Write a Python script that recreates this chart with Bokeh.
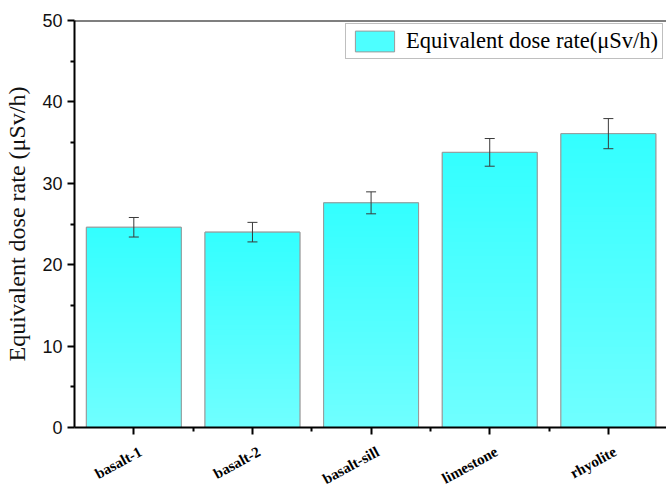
import numpy as np
from bokeh.plotting import figure
from bokeh.layouts import column
from bokeh.models import (FixedTicker, Range1d, Span, Whisker, TeeHead,
                          ColumnDataSource, Legend, LegendItem)
from bokeh.embed import file_html
from bokeh.resources import INLINE

# rock samples and their equivalent dose rates (µSv/h) with error
categories = ["basalt-1", "basalt-2", "basalt-sill", "limestone", "rhyolite"]
dose_rate = [24.6, 24.0, 27.6, 33.8, 36.1]
dose_err = [1.2, 1.2, 1.35, 1.7, 1.85]
y_ticks = [0, 10, 20, 30, 40, 50]

xs = list(range(1, len(categories) + 1))
bar_w = 0.8

p = figure(width=666, height=440, output_backend="svg", toolbar_location=None,
           x_range=Range1d(0.5, 5.49), y_range=Range1d(0, 50),
           min_border_left=74, min_border_right=0, min_border_top=20,
           min_border_bottom=13)
p.outline_line_color = None
p.grid.visible = False
p.background_fill_color = "white"
p.border_fill_color = "white"

# base bars (also used as legend swatch)
base = p.vbar(x=xs, top=dose_rate, width=bar_w, bottom=0,
              fill_color="#4DFFFF", line_color="#9a9a9a", line_width=1)

# vertical gradient inside each bar: lighter at the bottom, stronger at the top
n = 40
c_bot = np.array([0x70, 0xFF, 0xFF])
c_top = np.array([0x33, 0xFF, 0xFF])
sx, sb, st, sc = [], [], [], []
for x, v in zip(xs, dose_rate):
    for k in range(n):
        t = (k + 0.5) / n
        c = (c_bot * (1 - t) + c_top * t).round().astype(int)
        sx.append(x)
        sb.append(v * k / n)
        st.append(min(v, v * (k + 1) / n + v * 0.004))
        sc.append("#%02X%02X%02X" % tuple(c))
p.vbar(x=sx, bottom=sb, top=st, width=bar_w, fill_color=sc, line_color=None)

# bar outlines on top of the gradient
p.vbar(x=xs, top=dose_rate, width=bar_w, bottom=0,
       fill_color=None, line_color="#9a9a9a", line_width=1)

# error bars
err_src = ColumnDataSource(dict(
    x=xs,
    lo=[v - e for v, e in zip(dose_rate, dose_err)],
    hi=[v + e for v, e in zip(dose_rate, dose_err)],
))
head_kw = dict(size=10, line_color="#3a3a3a", line_width=1)
p.add_layout(Whisker(source=err_src, base="x", lower="lo", upper="hi",
                     dimension="height", line_color="#3a3a3a", line_width=1,
                     level="overlay",
                     upper_head=TeeHead(**head_kw), lower_head=TeeHead(**head_kw)))

# top frame line
p.add_layout(Span(location=50, dimension="width", line_color="black", line_width=2))

# x axis: ticks only, the slanted category names go in the strip below
xa = p.xaxis[0]
xa.ticker = FixedTicker(ticks=xs, minor_ticks=[1.5, 2.5, 3.5, 4.5])
xa.major_label_overrides = {x: "" for x in xs}
xa.major_label_text_font_size = "0px"
xa.major_label_standoff = 0
xa.axis_line_width = 2
xa.axis_line_color = "black"
xa.major_tick_in = 0
xa.major_tick_out = 7
xa.minor_tick_in = 0
xa.minor_tick_out = 4
xa.major_tick_line_width = 2
xa.minor_tick_line_width = 2

# y axis
ya = p.yaxis[0]
ya.ticker = FixedTicker(ticks=y_ticks, minor_ticks=[5, 15, 25, 35, 45])
ya.major_label_text_font = "Liberation Sans"
ya.major_label_text_font_size = "18px"
ya.major_label_text_color = "#111111"
ya.axis_label = "Equivalent dose rate (μSv/h)"
ya.axis_label_text_font = "Liberation Serif"
ya.axis_label_text_font_style = "normal"
ya.axis_label_text_font_size = "24px"
ya.axis_label_text_color = "#111111"
ya.axis_label_standoff = 9
ya.axis_line_width = 2
ya.axis_line_color = "black"
ya.major_tick_in = 0
ya.major_tick_out = 7
ya.minor_tick_in = 0
ya.minor_tick_out = 4
ya.major_tick_line_width = 2
ya.minor_tick_line_width = 2
ya.major_label_standoff = 5

legend = Legend(items=[LegendItem(label="Equivalent dose rate(μSv/h)", renderers=[base])],
                location="top_right", margin=3, padding=4, spacing=0,
                glyph_width=49, glyph_height=26, label_standoff=7,
                label_text_font="Liberation Serif", label_text_font_size="22.5px",
                label_text_color="black", border_line_color="#808080",
                border_line_width=1, background_fill_alpha=1.0)
p.add_layout(legend)

# strip under the axis holding the slanted category names, sharing the x scale
q = figure(width=666, height=48, output_backend="svg", toolbar_location=None,
           x_range=p.x_range, y_range=Range1d(0, 1),
           x_axis_type=None, y_axis_type=None,
           min_border_left=74, min_border_right=0, min_border_top=0,
           min_border_bottom=0)
q.outline_line_color = None
q.grid.visible = False
q.text(x=xs, y=[1] * len(xs), text=categories, angle=0.5,
       text_align="right", text_baseline="top", x_offset=3, y_offset=3,
       text_font="Liberation Serif", text_font_style="bold",
       text_font_size="15px", text_color="black")

layout = column(p, q, spacing=0)
open("out.html", "w").write(file_html(layout, INLINE))
